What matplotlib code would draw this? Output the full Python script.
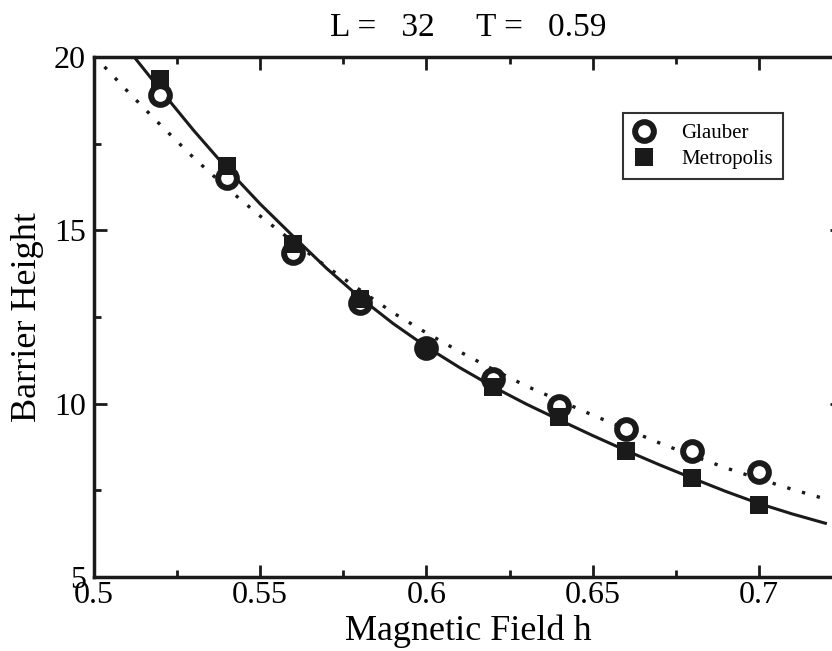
import numpy as np
import matplotlib
matplotlib.use("Agg")
import matplotlib.pyplot as plt

plt.rcParams['font.family'] = ['Liberation Serif', 'DejaVu Serif']

# data
h = [0.52, 0.54, 0.56, 0.58, 0.60, 0.62, 0.64, 0.66, 0.68, 0.70]
glauber = [18.89, 16.52, 14.34, 12.89, 11.62, 10.72, 9.92, 9.26, 8.64, 8.03]
metropolis = [19.37, 16.85, 14.60, 13.03, 11.62, 10.47, 9.61, 8.64, 7.85, 7.09]

# solid curve (through Metropolis points)
fit_h = [0.51, 0.52, 0.53, 0.54, 0.55, 0.56, 0.57, 0.58, 0.59, 0.60, 0.61,
         0.62, 0.63, 0.64, 0.65, 0.66, 0.67, 0.68, 0.69, 0.70, 0.71, 0.72]
fit_m = [20.25, 19.05, 17.88, 16.78, 15.76, 14.82, 13.90, 13.06, 12.31, 11.64, 11.04,
         10.49, 9.99, 9.53, 9.08, 8.65, 8.24, 7.85, 7.47, 7.12, 6.82, 6.55]

# dotted curve (through Glauber points)
dot_h = [0.50, 0.51, 0.52, 0.53, 0.54, 0.55, 0.56, 0.57, 0.58, 0.59, 0.60, 0.61,
         0.62, 0.63, 0.64, 0.65, 0.66, 0.67, 0.68, 0.69, 0.70, 0.71, 0.72]
dot_g = [20.04, 19.02, 18.04, 17.09, 16.22, 15.41, 14.66, 13.95, 13.28, 12.62, 12.04, 11.50,
         10.99, 10.51, 10.09, 9.67, 9.27, 8.87, 8.50, 8.15, 7.83, 7.53, 7.25]

fig = plt.figure(figsize=(8.32, 6.51), dpi=100)
ax = fig.add_axes([94 / 832, 74 / 651, 748 / 832, 520 / 651])

ax.plot(fit_h, fit_m, color='#1a1a1a', lw=2.2, zorder=2)
ax.plot(dot_h, dot_g, color='#1a1a1a', lw=2.4, linestyle=(0, (1, 3.6)), zorder=2)

ax.plot(h, glauber, linestyle='none', marker='o', ms=13.5, mfc='white', mec='#1a1a1a',
        mew=4.3, label='Glauber', zorder=3)
ax.plot(h, metropolis, linestyle='none', marker='s', ms=13.5, mfc='#1a1a1a', mec='#1a1a1a',
        mew=0, label='Metropolis', zorder=4)

ax.set_xlim(0.5, 0.72)
ax.set_ylim(5, 20)
ax.set_xticks([0.5, 0.55, 0.6, 0.65, 0.7])
ax.set_xticklabels(['0.5', '0.55', '0.6', '0.65', '0.7'])
ax.set_xticks([0.525, 0.575, 0.625, 0.675, 0.725], minor=True)
ax.set_yticks([5, 10, 15, 20])
ax.set_yticks([7.5, 12.5, 17.5], minor=True)

ax.tick_params(which='both', direction='in', top=True, right=True, width=2, color='#1a1a1a')
ax.tick_params(which='major', length=9)
ax.tick_params(which='minor', length=5)
ax.tick_params(axis='x', labelsize=23, pad=3)
ax.tick_params(axis='y', labelsize=23, pad=6)
for s in ax.spines.values():
    s.set_linewidth(2.5)
    s.set_color('#1a1a1a')

ax.set_xlabel('Magnetic Field h', fontsize=26, labelpad=3)
ax.set_ylabel('Barrier Height', fontsize=26, labelpad=7)
ax.set_title('L =   32     T =   0.59', fontsize=24, pad=15)

leg = ax.legend(loc='upper left', bbox_to_anchor=(623 / 832, 1 - 113 / 651),
                bbox_transform=fig.transFigure, borderaxespad=0, fontsize=15,
                fancybox=False, framealpha=1, edgecolor='#333333',
                handlelength=1.0, handletextpad=1.3, borderpad=0.5, labelspacing=0.3)
leg.get_frame().set_linewidth(1.5)

fig.savefig('out.png', dpi=100)
